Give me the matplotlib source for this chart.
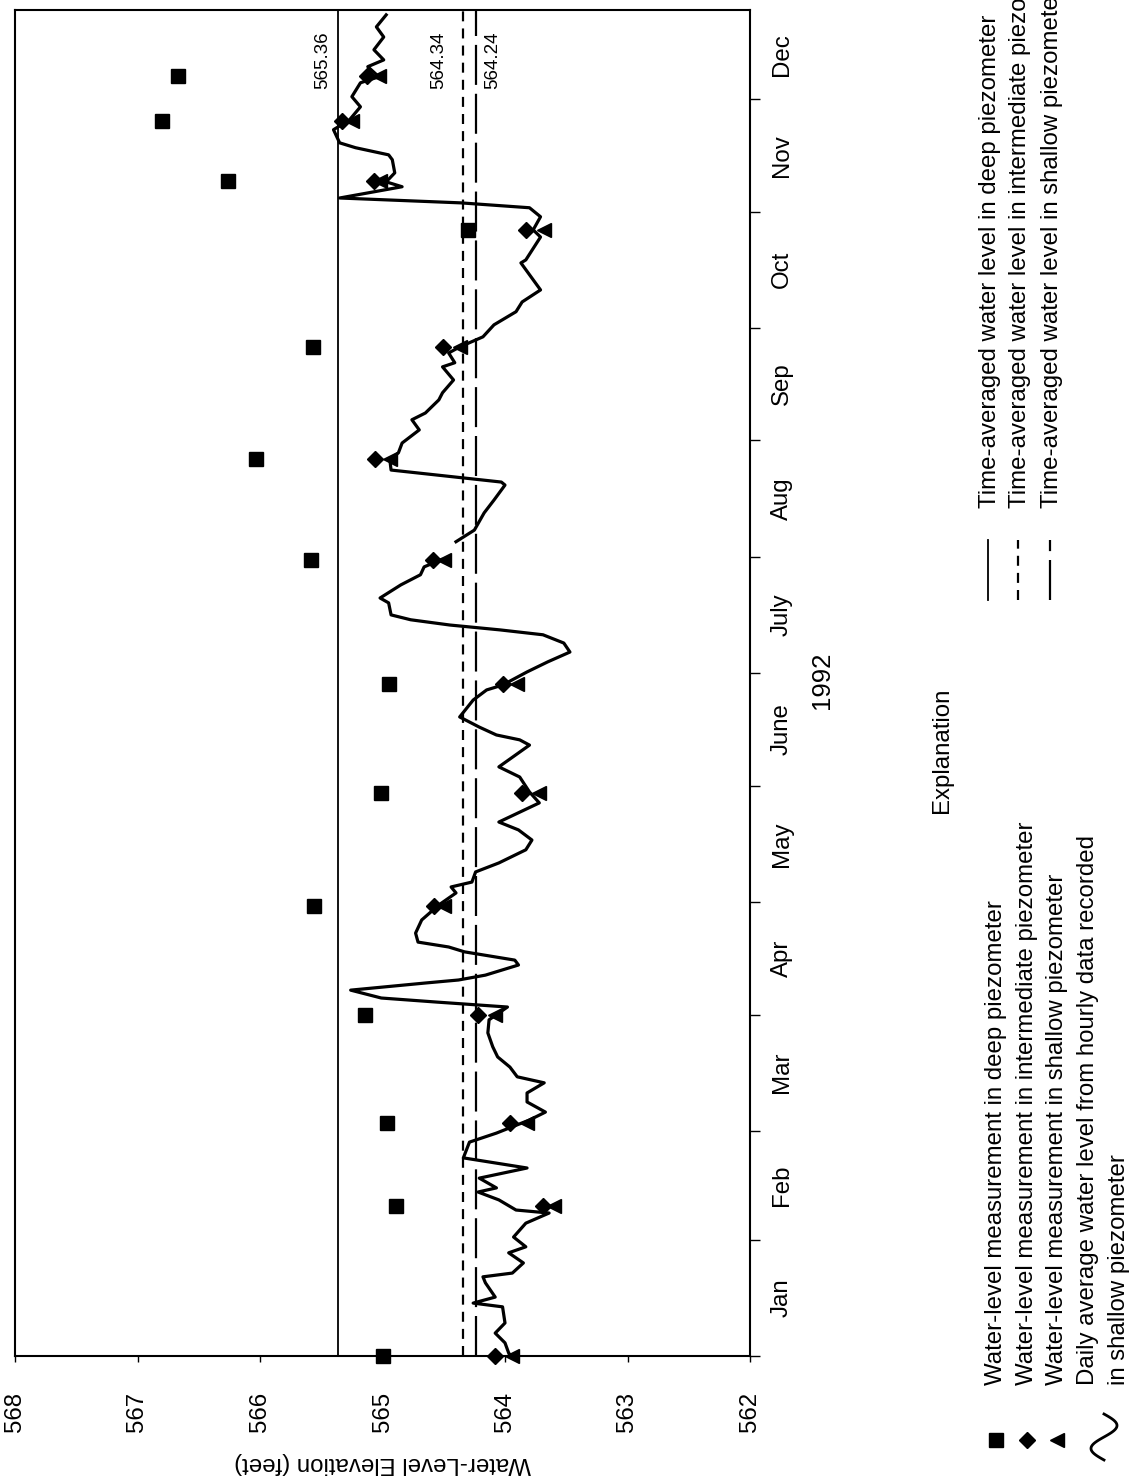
import numpy as np
import matplotlib
matplotlib.use("Agg")
import matplotlib.pyplot as plt
from matplotlib.lines import Line2D
from matplotlib.transforms import offset_copy

plt.rcParams['font.family'] = ['Liberation Sans', 'DejaVu Sans']

# Daily average water level in shallow piezometer (day of 1992, feet)
line_day = [0.0, 0.8, 3.5, 6.1, 8.8, 13.1, 14.1, 15.7, 19.5, 21.1,
            22.1, 24.8, 27.5, 29.1, 31.7, 35.4, 38.1, 38.9, 41.6, 43.7,
            44.8, 47.4, 50.1, 52.8, 57.0, 59.4, 62.9, 65.0, 67.7, 70.1,
            72.8, 74.4, 77.0, 79.7, 82.4, 86.1, 89.6, 93.0, 94.3, 95.4,
            97.5, 99.4, 100.2, 101.5, 104.2, 105.5, 107.7, 109.0, 110.3, 112.7,
            116.2, 120.2, 123.4, 125.0, 126.3, 129.0, 131.4, 134.9, 137.5, 140.2,
            142.3, 147.4, 150.3, 154.3, 157.0, 162.8, 164.2, 165.5, 167.6, 170.3,
            174.8, 177.5, 178.8, 182.3, 185.0, 187.6, 190.0, 192.2, 193.5, 194.8,
            196.2, 197.5, 200.7, 202.0, 205.5, 208.2, 210.3, 212.2, 214.5, 217.0,
            220.1, 224.7, 228.1, 232.1, 232.9, 236.1, 238.8, 240.7, 243.3, 246.8,
            249.5, 251.3, 254.8, 256.7, 260.1, 263.6, 264.7, 267.3, 268.9, 271.6,
            274.8, 278.3, 280.9, 284.1, 286.8, 291.3, 292.1, 298.2, 300.1, 303.6,
            306.0, 307.3, 308.6, 311.6, 312.9, 315.3, 318.8, 320.1, 322.0, 323.3,
            326.8, 329.4, 332.9, 335.6, 339.3, 340.9, 343.6, 345.4, 348.1, 351.5,
            354.2, 357.4]
line_level = [563.95, 563.97, 564.00, 564.08, 564.00, 564.02, 564.26, 564.08, 564.16, 564.18,
              563.94, 563.85, 563.97, 563.83, 563.93, 563.83, 563.64, 563.91, 564.05, 564.22,
              564.07, 564.21, 563.82, 564.34, 564.29, 564.07, 563.80, 563.67, 563.82, 563.82,
              563.68, 563.90, 563.96, 564.06, 564.10, 564.14, 564.13, 563.98, 564.55, 565.01,
              565.26, 564.65, 564.38, 564.16, 563.89, 563.92, 564.33, 564.46, 564.71, 564.73,
              564.68, 564.54, 564.40, 564.44, 564.27, 564.24, 564.05, 563.83, 563.78, 563.89,
              564.05, 563.72, 563.80, 563.88, 564.05, 563.80, 563.88, 564.07, 564.21, 564.37,
              564.26, 564.15, 564.02, 563.82, 563.65, 563.47, 563.52, 563.69, 564.04, 564.45,
              564.77, 564.93, 564.95, 565.02, 564.85, 564.69, 564.66, 564.52, np.nan, 564.40,
              564.25, 564.17, 564.09, 564.00, 564.03, 564.93, 564.94, 564.87, 564.84, 564.70,
              564.76, 564.65, 564.54, 564.51, 564.42, 564.51, 564.41, 564.46, 564.37, 564.18,
              564.09, 563.91, 563.86, 563.71, 563.77, 563.87, 563.83, 563.71, 563.77, 563.71,
              563.80, 564.36, 565.35, 564.84, 564.97, 564.90, 564.92, 564.95, 565.22, 565.35,
              565.40, 565.27, 565.18, 565.25, 565.18, 565.03, 565.12, 564.99, 565.07, 564.99,
              565.05, 564.97]

# Periodic measurements
meas_day = [0, 40, 62, 91, 120, 150, 179, 212, 239, 269, 300, 313, 329, 341]
deep_level = [565.00, 564.89, 564.96, 565.14, 565.56, 565.01, 564.95,
              565.58, 566.03, 565.57, 564.30, 566.26, 566.80, 566.67]
inter_level = [564.08, 563.69, 563.96, 564.22, 564.58, 563.86, 564.02,
               564.59, 565.06, 564.51, 563.83, 565.07, 565.33, 565.13]
shallow_level = [563.94, 563.60, 563.82, 564.08, 564.50, 563.72, 563.90,
                 564.50, 564.94, 564.37, 563.68, 565.02, 565.25, 565.03]

# Time-averaged levels
avg_levels = [565.36, 564.34, 564.24]
avg_labels = ["565.36", "564.34", "564.24"]

months = ["Jan", "Feb", "Mar", "Apr", "May", "June", "July",
          "Aug", "Sep", "Oct", "Nov", "Dec"]
month_start = [0, 31, 60, 91, 121, 152, 182, 213, 244, 274, 305, 335, 366]
level_ticks = [568, 567, 566, 565, 564, 563, 562]
day_end = 358.7

W, H = 1138, 1482
fig = plt.figure(figsize=(W / 100, H / 100), dpi=100)
ax = fig.add_axes([15 / W, 1 - 1356 / H, 735 / W, 1346 / H])

# the page is turned: elevation runs right-to-left, time runs upward
ax.set_xlim(568, 562)
ax.set_ylim(0, day_end)

ax.plot(line_level, line_day, color='black', lw=2.3, solid_joinstyle='round')

styles = [dict(ls='-', lw=1.3), dict(ls=(0, (4.5, 3.2)), lw=1.6), dict(ls=(0, (18, 4)), lw=1.6)]
for lvl, st in zip(avg_levels, styles):
    ax.axvline(lvl, color='black', **st)

ax.plot(deep_level, meas_day, 's', color='black', ms=10.5, clip_on=False, zorder=5)
ax.plot(inter_level, meas_day, 'D', color='black', ms=8.5, clip_on=False, zorder=5)
ax.plot(shallow_level, meas_day, '<', color='black', ms=10, clip_on=False, zorder=5)

# labels of the averaged lines
offsets = [-16, -25, 17]
for lvl, lab, dx in zip(avg_levels, avg_labels, offsets):
    tr = offset_copy(ax.transData, fig=fig, x=dx, y=0, units='dots')
    ax.text(lvl, 345.4, lab, transform=tr, rotation=90, ha='center', va='center',
            fontsize=13.5)

for sp in ax.spines.values():
    sp.set_linewidth(1.5)

# elevation axis (bottom of the page)
ax.set_xticks(level_ticks, labels=[str(v) for v in level_ticks])
ax.tick_params(axis='x', direction='out', length=4, width=1, pad=22,
               labelsize=17.3, labelrotation=90)
ax.set_xlabel("Water-Level Elevation (feet)", fontsize=17.3, rotation=180, labelpad=14)

# time axis (right side of the page)
ax.yaxis.tick_right()
ax.set_yticks(month_start[:12])
ax.set_yticklabels([])
ax.tick_params(axis='y', which='major', direction='out', length=7, width=1,
               left=False, right=True)
mids = [(a + min(b, day_end)) / 2 for a, b in zip(month_start[:-1], month_start[1:])]
ax.set_yticks(mids, labels=months, minor=True)
ax.tick_params(axis='y', which='minor', length=0, pad=15, labelsize=17.3,
               labelrotation=90, left=False, right=True)
for t in ax.get_yticklabels(minor=True):
    t.set_va('center')
ax.text(1.098, 0.502, "1992", transform=ax.transAxes, rotation=90,
        ha='center', va='center', fontsize=18.5)

# Explanation (legend), turned with the page
def fx(px):
    return px / W

def fy(py):
    return 1 - py / H

fig.text(fx(942), fy(750), "Explanation", rotation=90, ha='center', va='center', fontsize=17.3)

left_text = ["Water-level measurement in deep piezometer",
             "Water-level measurement in intermediate piezometer",
             "Water-level measurement in shallow piezometer",
             "Daily average water level from hourly data recorded",
             "in shallow piezometer"]
for px, s in zip([996, 1027, 1057, 1088, 1119], left_text):
    fig.text(fx(px), fy(1385), s, rotation=90, ha='center', va='bottom', fontsize=17.3)

for px, m, ms in zip([996, 1027, 1057], ['s', 'D', '<'], [10, 8, 9.5]):
    fig.add_artist(Line2D([fx(px)], [fy(1440)], marker=m, ms=ms, color='black',
                          transform=fig.transFigure))

t = np.linspace(0, 1, 60)
fig.add_artist(Line2D(fx(1104 - 13 * np.sin(2 * np.pi * t)), fy(1460 - 46 * t),
                      color='black', lw=2, transform=fig.transFigure))

right_text = ["Time-averaged water level in deep piezometer",
              "Time-averaged water level in intermediate piezometer",
              "Time-averaged water level in shallow piezometer"]
for px, s in zip([990, 1020, 1052], right_text):
    fig.text(fx(px), fy(508), s, rotation=90, ha='center', va='bottom', fontsize=17.3)

for px, st in zip([988, 1018, 1050], styles):
    fig.add_artist(Line2D([fx(px), fx(px)], [fy(600), fy(540)], color='black',
                          transform=fig.transFigure, **st))

fig.savefig("out.png", dpi=100)
